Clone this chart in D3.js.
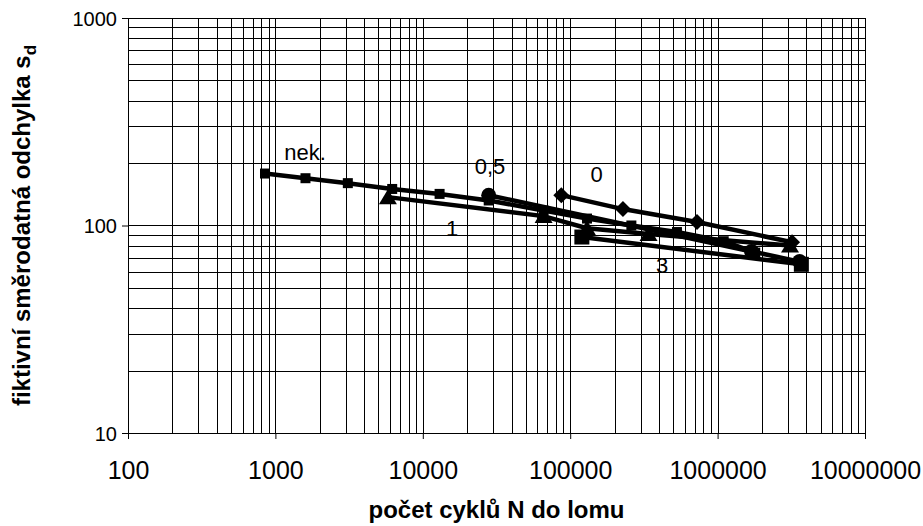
<!DOCTYPE html>
<html>
<head>
<meta charset="utf-8">
<script src="https://cdn.jsdelivr.net/npm/d3@7"></script>
<style>
  body { margin: 0; background: #fff; }
  text { font-family: "Liberation Sans", Arial, sans-serif; }
</style>
</head>
<body>
<div id="chart"></div>
<script>
// data
const serNek = [[850, 178], [1600, 169], [3100, 160], [6200, 150], [13000, 142], [28000, 132], [66000, 118], [130000, 108], [260000, 100], [530000, 93], [1100000, 84], [1800000, 74]];
const ser05 = [[28000, 140], [1700000, 75], [3600000, 67]];
const ser0 = [[87000, 140], [228000, 120], [725000, 104], [3200000, 83]];
const ser1 = [[5800, 137], [66000, 111], [130000, 97], [340000, 91], [3100000, 80]];
const ser3 = [[120000, 88], [3700000, 65]];
const xTicks = [100, 1000, 10000, 100000, 1000000, 10000000];
const yTicks = [10, 100, 1000];
const seriesLabels = [
  { t: "nek.", n: 1590, s: 207 },
  { t: "0,5", n: 28600, s: 177 },
  { t: "0", n: 151000, s: 162 },
  { t: "1", n: 15800, s: 89 },
  { t: "3", n: 420000, s: 59 }
];

const width = 923, height = 526;
const margin = { left: 128, right: 58, top: 18, bottom: 93 };
const w = width - margin.left - margin.right;
const h = height - margin.top - margin.bottom;

let svg = d3.select("#chart")
  .append("svg")
  .attr("width", width)
  .attr("height", height);

let g = svg.append("g")
  .attr("transform", `translate(${margin.left}, ${margin.top})`);

let x = d3.scaleLog().domain([100, 10000000]).range([0, w]);
let y = d3.scaleLog().domain([10, 1000]).range([h, 0]);

// grid lines, 1..9 per decade
let gridX = [], gridY = [];
for (let e = 2; e < 7; e++) for (let k = 1; k < 10; k++) gridX.push(k * Math.pow(10, e));
gridX.push(10000000);
for (let e = 1; e < 3; e++) for (let k = 1; k < 10; k++) gridY.push(k * Math.pow(10, e));
gridY.push(1000);

g.selectAll(".gx").data(gridX).enter().append("line")
  .attr("x1", d => Math.round(x(d)) + 0.5).attr("x2", d => Math.round(x(d)) + 0.5)
  .attr("y1", 0).attr("y2", h)
  .attr("stroke", "#000").attr("stroke-width", 1);

g.selectAll(".gy").data(gridY).enter().append("line")
  .attr("y1", d => Math.round(y(d)) + 0.5).attr("y2", d => Math.round(y(d)) + 0.5)
  .attr("x1", 0).attr("x2", w)
  .attr("stroke", "#000").attr("stroke-width", 1);

// axes
let xAxis = g.append("g")
  .attr("transform", `translate(0, ${h})`)
  .call(d3.axisBottom(x).tickValues(xTicks).tickFormat(d3.format("d")).tickSize(6).tickPadding(22));

let yAxis = g.append("g")
  .call(d3.axisLeft(y).tickValues(yTicks).tickFormat(d3.format("d")).tickSize(6).tickPadding(5));

[xAxis, yAxis].forEach(a => {
  a.selectAll("text").attr("fill", "#000");
  a.select(".domain").attr("stroke", "#000");
});
xAxis.selectAll("text").style("font-size", "25px");
yAxis.selectAll("text").style("font-size", "20px").attr("dy", "0.36em");

// series lines
let line = d3.line().x(d => x(d[0])).y(d => y(d[1]));
[serNek, ser05, ser0, ser1, ser3].forEach(s => {
  g.append("path")
    .datum(s)
    .attr("fill", "none")
    .attr("stroke", "#000")
    .attr("stroke-width", 4.5)
    .attr("d", line);
});

// markers
g.selectAll(".mNek").data(serNek).enter().append("rect")
  .attr("x", d => x(d[0]) - 5).attr("y", d => y(d[1]) - 5)
  .attr("width", 10).attr("height", 10).attr("fill", "#000");

g.selectAll(".m05").data(ser05).enter().append("circle")
  .attr("cx", d => x(d[0])).attr("cy", d => y(d[1])).attr("r", 7.5).attr("fill", "#000");

g.selectAll(".m0").data(ser0).enter().append("path")
  .attr("transform", d => `translate(${x(d[0])}, ${y(d[1])})`)
  .attr("d", "M0,-8L8,0L0,8L-8,0Z").attr("fill", "#000");

g.selectAll(".m1").data(ser1).enter().append("path")
  .attr("transform", d => `translate(${x(d[0])}, ${y(d[1])})`)
  .attr("d", "M0,-8L9,7L-9,7Z").attr("fill", "#000");

g.selectAll(".m3").data(ser3).enter().append("rect")
  .attr("x", d => x(d[0]) - 7.5).attr("y", d => y(d[1]) - 7.5)
  .attr("width", 15).attr("height", 15).attr("fill", "#000");

// series labels
g.selectAll(".lab").data(seriesLabels).enter().append("text")
  .attr("x", d => x(d.n)).attr("y", d => y(d.s))
  .attr("text-anchor", "middle")
  .style("font-size", "22px")
  .text(d => d.t);

// axis titles
svg.append("text")
  .attr("x", margin.left + w / 2).attr("y", 518)
  .attr("text-anchor", "middle")
  .style("font-size", "24px").style("font-weight", "bold")
  .text("počet cyklů N do lomu");

let yt = svg.append("text")
  .attr("transform", `translate(30, ${margin.top + h / 2})rotate(-90)`)
  .attr("text-anchor", "middle")
  .style("font-size", "24px").style("font-weight", "bold");
yt.append("tspan").text("fiktivní směrodatná odchylka s");
yt.append("tspan").attr("dy", 6).style("font-size", "17px").text("d");
</script>
</body>
</html>
